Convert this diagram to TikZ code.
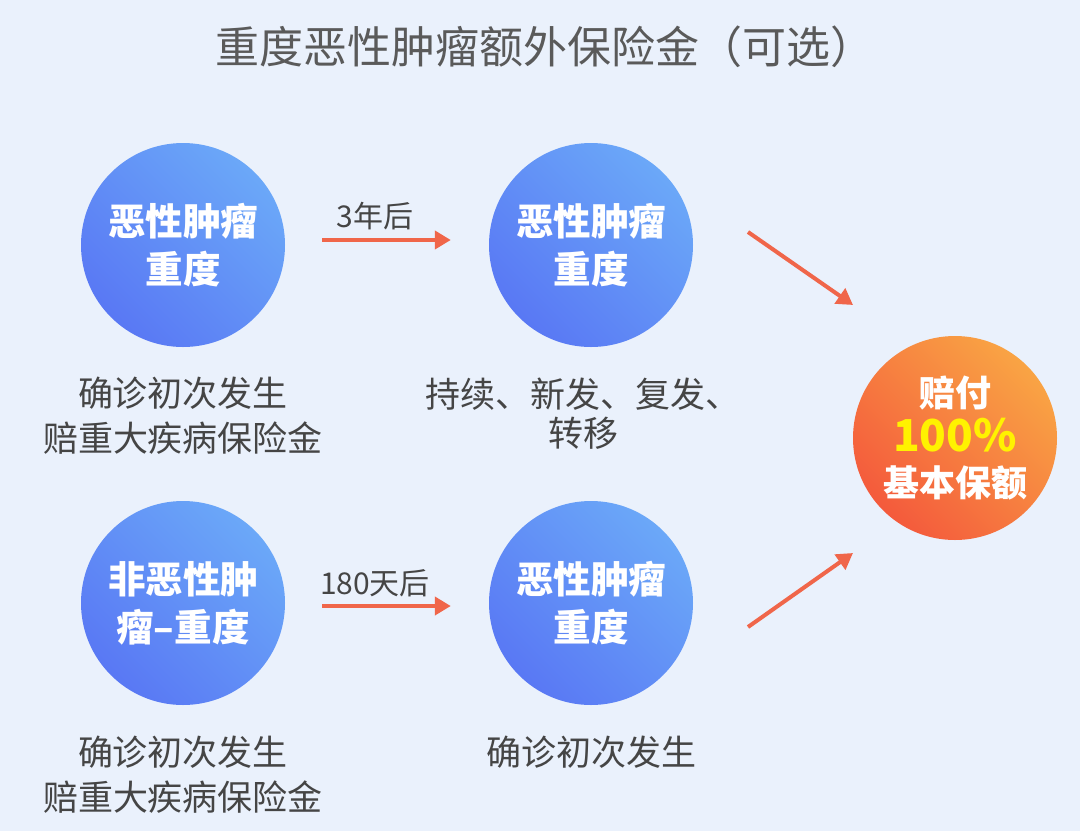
\documentclass[tikz,border=0pt]{standalone}
\usepackage{fontspec}
\setmainfont{Noto Sans CJK SC}
\usepackage{tikz}
\usetikzlibrary{arrows.meta,positioning,calc}
\definecolor{bgblue}{HTML}{EAF1FC}
\definecolor{circlight}{HTML}{6BA8F8}
\definecolor{circdark}{HTML}{5978F4}
\definecolor{orglight}{HTML}{F9A444}
\definecolor{orgdark}{HTML}{F45A3C}
\definecolor{arrowred}{HTML}{F0664A}
\definecolor{textgray}{HTML}{454545}
\definecolor{titlegray}{HTML}{5A5A5A}

\tikzset{
  bluecirc/.style={circle,minimum size=204pt,inner sep=0pt,
    top color=circlight,bottom color=circdark,shading angle=-45,
    text=white,align=center,font=\bfseries\fontsize{37.5}{48}\selectfont},
  orangecirc/.style={circle,minimum size=204pt,inner sep=0pt,
    top color=orglight,bottom color=orgdark,shading angle=-45,
    text=white,align=center,font=\bfseries\fontsize{36}{45}\selectfont},
  caption/.style={text=textgray,align=center,font=\fontsize{35}{45}\selectfont},
  steplabel/.style={text=textgray,font=\fontsize{30}{34}\selectfont},
  flow/.style={arrowred,line width=4pt,-{Triangle[length=16pt,width=18pt]}}
}

\begin{document}
\begin{tikzpicture}[x=1pt,y=-1pt]
  \fill[bgblue] (0,0) rectangle (1080,831);
  \useasboundingbox (0,0) rectangle (1080,831);

  % title
  \node[text=titlegray,font=\fontsize{44}{48}\selectfont] (title) at (545,47)
    {重度恶性肿瘤额外保险金（可选）};

  % circles
  \node[bluecirc] (c1) at (183,245) {恶性肿瘤\\重度};
  \node[bluecirc] (c2) at (591,245) {恶性肿瘤\\重度};
  \node[bluecirc] (c3) at (183,603) {非恶性肿\\瘤–重度};
  \node[bluecirc] (c4) at (591,603) {恶性肿瘤\\重度};
  \node[orangecirc] (pay) at (955,438)
    {赔付\\{\color{yellow}\fontsize{44}{45}\selectfont 100\%}\\基本保额};

  % captions
  \node[caption] (cap1) at (183,416) {确诊初次发生\\赔重大疾病保险金};
  \node[caption,font=\fontsize{35}{39}\selectfont] (cap2) at (583,414) {持续、新发、复发、\\转移};
  \node[caption] (cap3) at (183,775) {确诊初次发生\\赔重大疾病保险金};
  \node[caption] (cap4) at (591,752) {确诊初次发生};

  % arrows
  \draw[flow,shorten <=37pt,shorten >=38pt] ($(c1.east)+(0,-5)$) -- ($(c2.west)+(0,-5)$);
  \node[steplabel] (t1) at (375,216) {3年后};
  \draw[flow,shorten <=37pt,shorten >=38pt] ($(c3.east)+(0,3)$) -- ($(c4.west)+(0,3)$);
  \node[steplabel] (t2) at (375,583) {180天后};

  \coordinate (d1) at (748,232);
  \coordinate (d2) at (853,305);
  \coordinate (d3) at (748,627);
  \coordinate (d4) at (853,553);
  \draw[flow] (d1) -- (d2);
  \draw[flow] (d3) -- (d4);
\end{tikzpicture}
\end{document}
